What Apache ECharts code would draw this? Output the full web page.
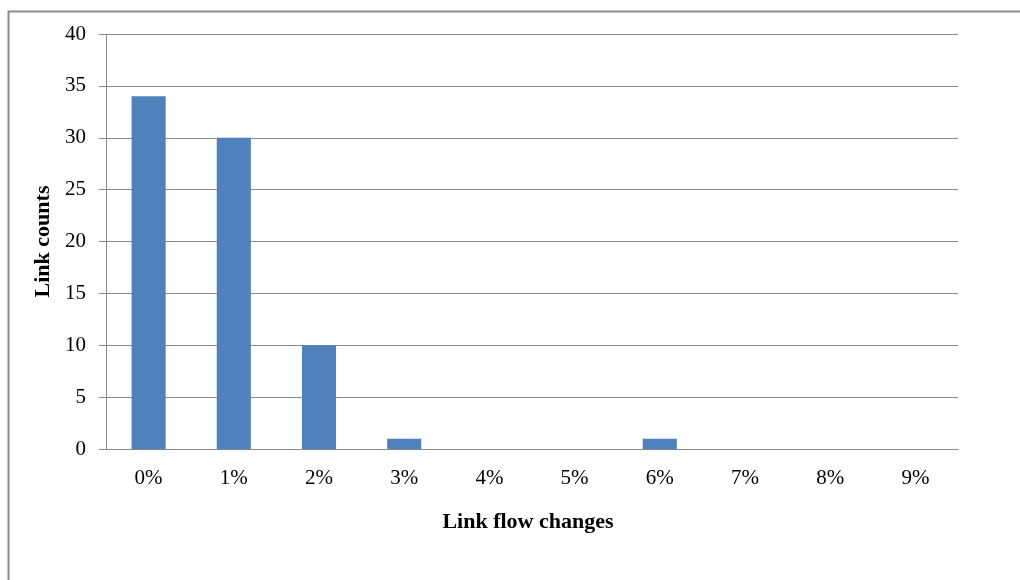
<!DOCTYPE html>
<html>
<head>
<meta charset="utf-8">
<script src="https://cdn.jsdelivr.net/npm/echarts@6/dist/echarts.min.js"></script>
<style>
  html, body { margin: 0; padding: 0; background: #fff; }
  #chart { width: 1020px; height: 580px; }
</style>
</head>
<body>
<div id="chart"></div>
<script>
// Distribution of link flow changes
const categories = ['0%', '1%', '2%', '3%', '4%', '5%', '6%', '7%', '8%', '9%'];
const linkCounts = [34, 30, 10, 1, 0, 0, 1, 0, 0, 0];
const yTicks = { min: 0, max: 40, interval: 5 };

const serif = '"Liberation Serif", "DejaVu Serif", serif';
const gridGray = '#8a8a8a';

const chart = echarts.init(document.getElementById('chart'), null, { renderer: 'canvas' });
chart.setOption({
  animation: false,
  backgroundColor: '#ffffff',
  graphic: [
    {
      type: 'polyline',
      shape: { points: [[8.5, 580], [8.5, 11.5], [1020, 11.5]] },
      style: { stroke: '#8a8a8a', lineWidth: 2, fill: null }
    }
  ],
  grid: { left: 106, right: 62, top: 34, bottom: 131, containLabel: false },
  xAxis: {
    type: 'category',
    data: categories,
    name: 'Link flow changes',
    nameLocation: 'middle',
    nameGap: 62,
    nameTextStyle: { fontFamily: serif, fontSize: 22, fontWeight: 'bold', color: '#000', padding: [0, 8, 0, 0] },
    axisLine: { show: true, lineStyle: { color: gridGray, width: 1 } },
    axisTick: { show: false },
    axisLabel: { fontFamily: serif, fontSize: 21, color: '#000', margin: 19 }
  },
  yAxis: {
    type: 'value',
    min: yTicks.min,
    max: yTicks.max,
    interval: yTicks.interval,
    name: 'Link counts',
    nameLocation: 'middle',
    nameGap: 49,
    nameRotate: 90,
    nameTextStyle: { fontFamily: serif, fontSize: 22, fontWeight: 'bold', color: '#000' },
    axisLine: { show: true, lineStyle: { color: gridGray, width: 1 } },
    axisTick: { show: true, length: 7, lineStyle: { color: gridGray } },
    axisLabel: { fontFamily: serif, fontSize: 21, color: '#000', margin: 20 },
    splitLine: { show: true, lineStyle: { color: gridGray, width: 1 } }
  },
  series: [
    {
      type: 'bar',
      data: linkCounts,
      barWidth: '40%',
      itemStyle: { color: '#4f81bd' }
    }
  ]
});
</script>
</body>
</html>
